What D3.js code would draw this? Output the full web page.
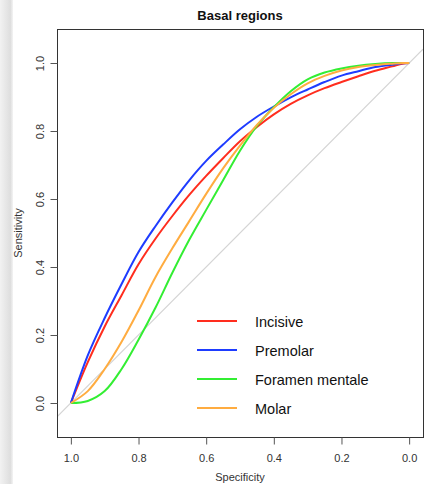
<!DOCTYPE html>
<html>
<head>
<meta charset="utf-8">
<script src="https://cdn.jsdelivr.net/npm/d3@7"></script>
<style>
  body { margin: 0; background: #fff; }
  text { font-family: "Liberation Sans", Arial, sans-serif; }
</style>
</head>
<body>
<svg id="chart"></svg>
<script>
let w = 441;
let h = 484;
let chart1;
let xScale, yScale;

// specificity positions where the curves were read
let specificity = [1, 0.95, 0.9, 0.85, 0.8, 0.75, 0.7, 0.65, 0.6, 0.55, 0.5,
    0.45, 0.4, 0.35, 0.3, 0.25, 0.2, 0.15, 0.1, 0.05, 0.02, 0];

// sensitivity at those positions
let incisive = [0, 0.12, 0.225, 0.317, 0.408, 0.483, 0.55, 0.612, 0.668, 0.72, 0.77,
    0.812, 0.849, 0.88, 0.905, 0.926, 0.944, 0.961, 0.977, 0.99, 0.998, 1];
let premolar = [0, 0.14, 0.25, 0.35, 0.444, 0.52, 0.59, 0.655, 0.712, 0.76, 0.805,
    0.842, 0.872, 0.899, 0.922, 0.944, 0.963, 0.976, 0.988, 0.995, 0.999, 1];
let foramen = [0, 0.006, 0.035, 0.1, 0.186, 0.28, 0.383, 0.48, 0.568, 0.655, 0.742,
    0.815, 0.87, 0.917, 0.952, 0.972, 0.984, 0.992, 0.997, 1, 1, 1];
let molar = [0, 0.035, 0.1, 0.18, 0.272, 0.37, 0.455, 0.535, 0.615, 0.69, 0.757,
    0.818, 0.868, 0.908, 0.94, 0.962, 0.978, 0.988, 0.994, 0.998, 1, 1];

let seriesNames = ["Incisive", "Premolar", "Foramen mentale", "Molar"];
let seriesData = [incisive, premolar, foramen, molar];
let seriesColors = ["#ff2d1e", "#1e3cff", "#33ee33", "#ffac40"];
let tickValues = [1.0, 0.8, 0.6, 0.4, 0.2, 0.0];

function initGraph() {
    chart1 = d3.select("#chart")
        .attr('width', w)
        .attr('height', h);

    // grey strip at left edge of the screenshot
    let grad = chart1.append('defs').append('linearGradient')
        .attr('id', 'strip');
    grad.append('stop').attr('offset', '0%').attr('stop-color', '#f2f2f2');
    grad.append('stop').attr('offset', '80%').attr('stop-color', '#dedede');
    grad.append('stop').attr('offset', '100%').attr('stop-color', '#f4f4f4');
    chart1.append('rect')
        .attr('x', 0).attr('y', 0)
        .attr('width', 13).attr('height', h)
        .attr('fill', 'url(#strip)');

    xScale = d3.scaleLinear().domain([1.041, -0.041]).range([57, 423]);
    yScale = d3.scaleLinear().domain([-0.1, 1.1]).range([437, 29]);

    chart1.select('defs').append('clipPath')
        .attr('id', 'plotclip')
        .append('rect')
            .attr('x', 57).attr('y', 29)
            .attr('width', 366).attr('height', 408);

    // diagonal
    chart1.append('line')
        .attr('clip-path', 'url(#plotclip)')
        .attr('x1', xScale(1.041)).attr('y1', yScale(-0.041))
        .attr('x2', xScale(-0.041)).attr('y2', yScale(1.041))
        .style('stroke', '#d4d4d4')
        .style('stroke-width', 1.2);

    let line = d3.line()
        .x((d, i) => xScale(specificity[i]))
        .y((d) => yScale(d))
        .curve(d3.curveCatmullRom.alpha(0.5));

    // roc curves
    chart1.append('g')
        .attr('clip-path', 'url(#plotclip)')
        .selectAll('path')
        .data(seriesData)
        .enter()
        .append('path')
            .attr('d', (d) => line(d))
            .style('fill', 'none')
            .style('stroke', (d, i) => seriesColors[i])
            .style('stroke-width', 2);

    // box
    chart1.append('rect')
        .attr('x', 57.5).attr('y', 29.5)
        .attr('width', 366).attr('height', 408)
        .style('fill', 'none')
        .style('stroke', '#333')
        .style('stroke-width', 1);

    // x axis
    let xAxis = d3.axisBottom(xScale)
        .tickValues(tickValues)
        .tickFormat(d3.format('.1f'))
        .tickSize(7)
        .tickPadding(10);
    let xAxisGroup = chart1.append('g')
        .attr('transform', 'translate(0, 437.5)')
        .call(xAxis);
    xAxisGroup.select('.domain').remove();
    xAxisGroup.selectAll('line').style('stroke', '#555');
    xAxisGroup.selectAll('text')
        .attr('font-size', '11px')
        .attr('font-family', '"Liberation Sans", Arial, sans-serif')
        .attr('fill', '#333');

    // y axis
    let yAxis = d3.axisLeft(yScale)
        .tickValues(tickValues)
        .tickFormat(d3.format('.1f'))
        .tickSize(7);
    let yAxisGroup = chart1.append('g')
        .attr('transform', 'translate(57.5, 0)')
        .call(yAxis);
    yAxisGroup.select('.domain').remove();
    yAxisGroup.selectAll('line').style('stroke', '#555');
    yAxisGroup.selectAll('text')
        .attr('x', null)
        .attr('dy', null)
        .attr('transform', 'translate(-14, 0) rotate(-90)')
        .attr('text-anchor', 'middle')
        .attr('font-size', '11px')
        .attr('font-family', '"Liberation Sans", Arial, sans-serif')
        .attr('fill', '#333');

    // titles
    chart1.append('text')
        .attr('x', 240).attr('y', 20)
        .attr('text-anchor', 'middle')
        .attr('font-size', '13px')
        .attr('font-weight', 'bold')
        .attr('fill', '#111')
        .text('Basal regions');

    chart1.append('text')
        .attr('x', 240).attr('y', 481)
        .attr('text-anchor', 'middle')
        .attr('font-size', '11px')
        .attr('fill', '#333')
        .text('Specificity');

    chart1.append('text')
        .attr('transform', 'translate(22, 233) rotate(-90)')
        .attr('text-anchor', 'middle')
        .attr('font-size', '11px')
        .attr('fill', '#333')
        .text('Sensitivity');

    // legend
    let legend = chart1.append('g')
        .selectAll('g')
        .data(seriesNames)
        .enter()
        .append('g')
            .attr('transform', (d, i) => `translate(0, ${321 + i * 29})`);
    legend.append('line')
        .attr('x1', 197).attr('x2', 237)
        .attr('y1', 0).attr('y2', 0)
        .style('stroke', (d, i) => seriesColors[i])
        .style('stroke-width', 2);
    legend.append('text')
        .attr('x', 255).attr('y', 6)
        .attr('font-size', '14.5px')
        .attr('fill', '#111')
        .text((d) => d);
}

initGraph();
</script>
</body>
</html>
